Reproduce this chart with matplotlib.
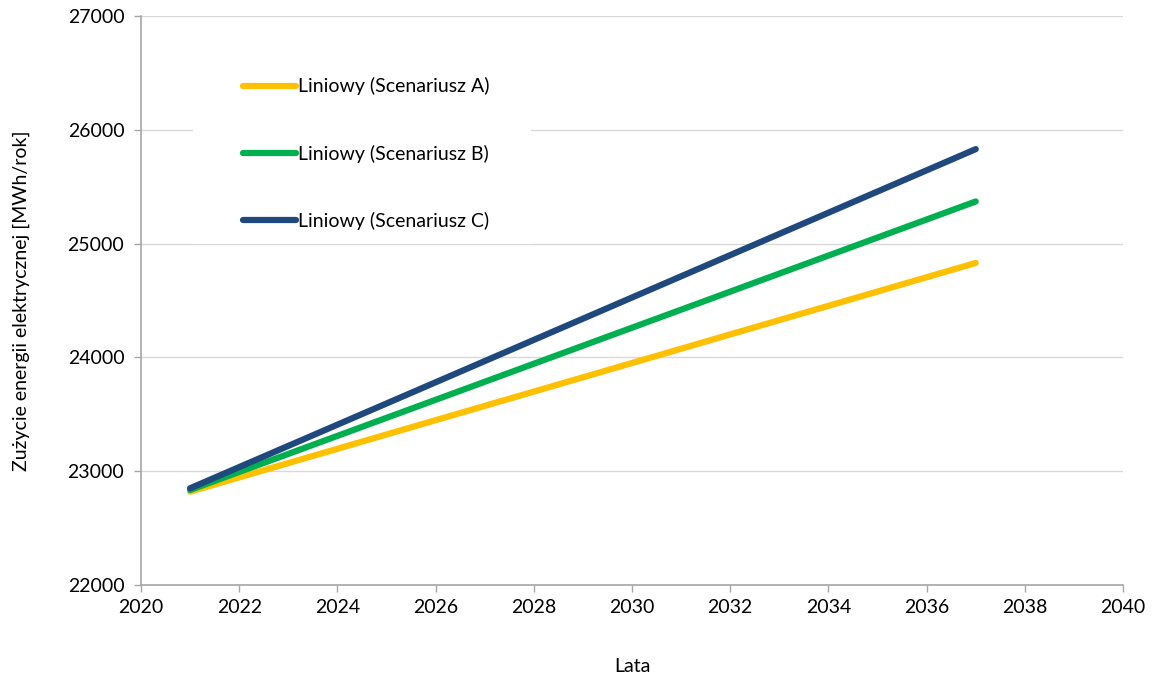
import matplotlib
matplotlib.use('Agg')
import matplotlib.pyplot as plt
from matplotlib.patches import Rectangle

plt.rcParams['font.family'] = ['Lato', 'DejaVu Sans']

# trend lines (start / end)
years = [2021, 2037]
scen_a = [22820, 24830]
scen_b = [22835, 25370]
scen_c = [22850, 25830]
labels = ['Liniowy (Scenariusz A)', 'Liniowy (Scenariusz B)', 'Liniowy (Scenariusz C)']
colors = ['#FFC000', '#00B050', '#1F497D']

xticks = list(range(2020, 2041, 2))
yticks = list(range(22000, 27001, 1000))

fig = plt.figure(figsize=(11.53, 6.8), dpi=100)
ax = fig.add_axes([0.1223, 0.1397, 0.8517, 0.8368])

for vals, lab, col in zip([scen_a, scen_b, scen_c], labels, colors):
	ax.plot(years, vals, color=col, lw=4.5, solid_capstyle='round', label=lab, zorder=3)

ax.set_xlim(2020, 2040)
ax.set_ylim(22000, 27000)
ax.set_xticks(xticks)
ax.set_yticks(yticks)
ax.tick_params(labelsize=14, colors='#000000', length=5, width=1, color='#A6A6A6')
ax.tick_params(axis='x', pad=5)
ax.tick_params(axis='y', pad=7)

ax.set_axisbelow(True)
ax.grid(axis='y', color='#D9D9D9', lw=1)
for s in ['top', 'right']:
	ax.spines[s].set_visible(False)
for s in ['left', 'bottom']:
	ax.spines[s].set_color('#A6A6A6')
	ax.spines[s].set_linewidth(1.2)

ax.set_xlabel('Lata', fontsize=14, labelpad=30)
ax.set_ylabel('Zużycie energii elektrycznej [MWh/rok]', fontsize=14, labelpad=27)

# white box behind the legend hides the gridlines
ax.add_patch(Rectangle((0.053, 0.60), 0.344, 0.33, transform=ax.transAxes,
	facecolor='white', edgecolor='none', zorder=2))

ax.legend(loc='upper left', bbox_to_anchor=(0.1039, 0.892), frameon=False,
	fontsize=14, handlelength=2.73, handletextpad=0.1, labelspacing=2.52,
	borderpad=0, borderaxespad=0)

fig.savefig('out.png', dpi=100)
